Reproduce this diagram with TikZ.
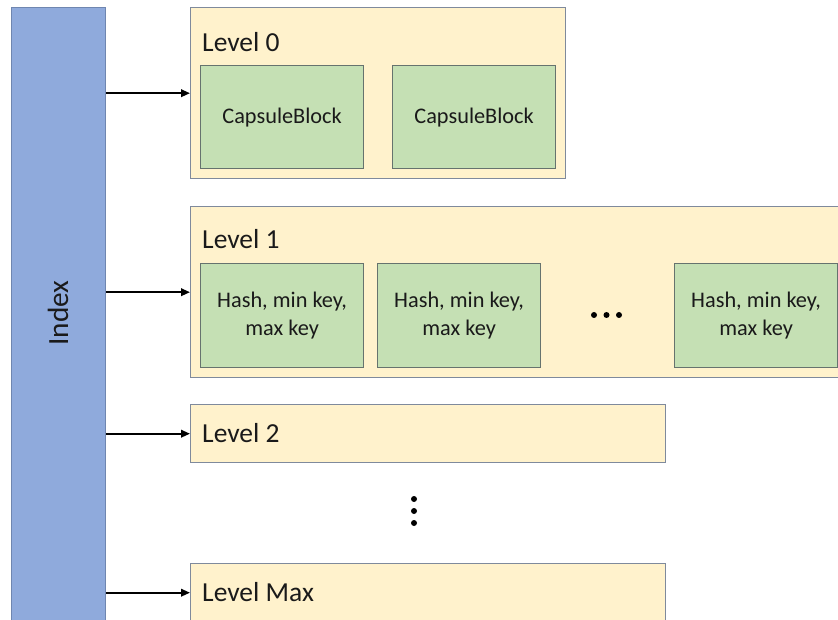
\documentclass[tikz,border=0pt]{standalone}
\usepackage{fontspec}
\setmainfont{Carlito}
\usetikzlibrary{arrows.meta}
\definecolor{idxfill}{HTML}{8FAADC}
\definecolor{idxline}{HTML}{6F86B0}
\definecolor{lvlfill}{HTML}{FFF2CC}
\definecolor{lvlline}{HTML}{7F8A9C}
\definecolor{blkfill}{HTML}{C5E0B4}
\definecolor{blkline}{HTML}{66736E}
\definecolor{txt}{HTML}{1A1A1A}
\tikzset{
  levelbox/.style={draw=lvlline, fill=lvlfill, line width=1.4pt, anchor=north west, inner sep=0pt},
  blockbox/.style={draw=blkline, fill=blkfill, line width=1.2pt, anchor=north west, inner sep=0pt,
    minimum width=163pt, minimum height=103pt, align=center, text=txt,
    font=\fontsize{22.3}{27.5}\selectfont},
  levellabel/.style={anchor=west, inner sep=0pt, text=txt, font=\fontsize{27.5}{32}\selectfont},
  link/.style={-{Triangle[length=9pt,width=7.5pt]}, line width=2pt, black},
  dotmark/.style={circle, fill=black, inner sep=0pt, minimum size=6pt}
}
\begin{document}
\begin{tikzpicture}[x=1pt,y=-1pt]
  \useasboundingbox (0,0) rectangle (838,620);
  \clip (0,0) rectangle (838,620);
  % index column
  \node[draw=idxline, fill=idxfill, line width=1.3pt, anchor=north west, inner sep=0pt,
        minimum width=94pt, minimum height=630pt] (idx) at (11,7) {};
  \node[rotate=90, text=txt, font=\fontsize{29.3}{34}\selectfont] (idxlabel) at (58,313) {Index};
  % levels
  \node[levelbox, minimum width=375pt, minimum height=171pt] (l0) at (190,7) {};
  \node[levelbox, minimum width=660pt, minimum height=171pt] (l1) at (190,206) {};
  \node[levelbox, minimum width=475pt, minimum height=58pt] (l2) at (190,404) {};
  \node[levelbox, minimum width=475pt, minimum height=58pt] (lmax) at (190,563) {};
  \node[levellabel] (l0t) at (202,42) {Level 0};
  \node[levellabel] (l1t) at (202,239) {Level 1};
  \node[levellabel] (l2t) at (202,433) {Level 2};
  \node[levellabel] (lmaxt) at (202,592) {Level Max};
  % blocks of level 0
  \node[blockbox] (c1) at (200,65) {CapsuleBlock};
  \node[blockbox] (c2) at (392,65) {CapsuleBlock};
  % blocks of level 1
  \node[blockbox, minimum height=104pt] (h1) at (200,263) {Hash, min key,\\max key};
  \node[blockbox, minimum height=104pt] (h2) at (377,263) {Hash, min key,\\max key};
  \node[blockbox, minimum height=104pt] (h3) at (674,263) {Hash, min key,\\max key};
  % ellipses
  \node[dotmark] (d1) at (594,315) {};
  \node[dotmark] (d2) at (606.5,315) {};
  \node[dotmark] (d3) at (619,315) {};
  \node[dotmark] (v1) at (414,499) {};
  \node[dotmark] (v2) at (414,511) {};
  \node[dotmark] (v3) at (414,523) {};
  % links from the index
  \draw[link] (idx.east |- l0.west) -- (l0.west);
  \draw[link] (idx.east |- l1.west) -- (l1.west);
  \draw[link] (idx.east |- l2.west) -- (l2.west);
  \draw[link] (idx.east |- lmax.west) -- (lmax.west);
\end{tikzpicture}
\end{document}
